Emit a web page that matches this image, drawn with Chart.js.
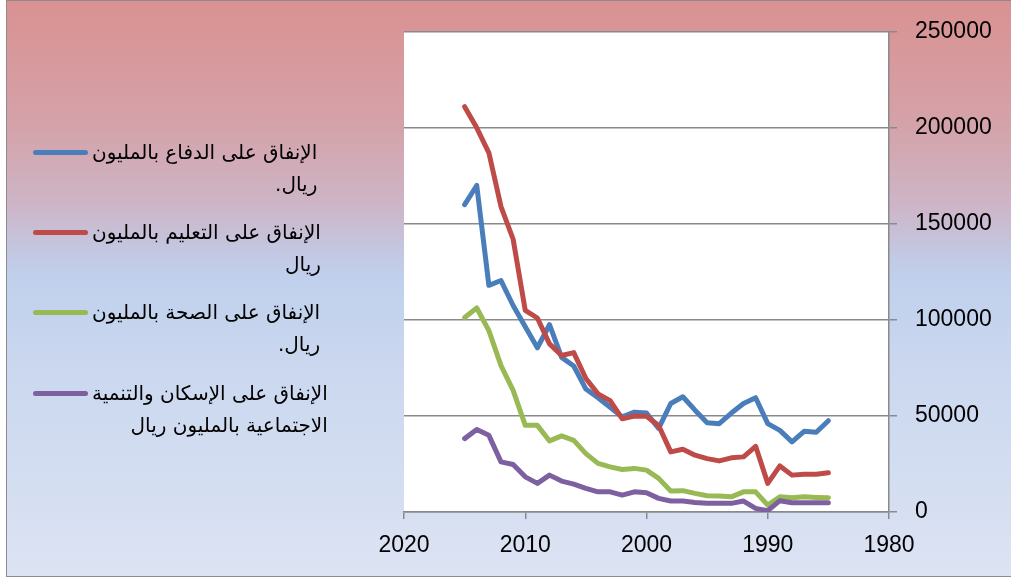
<!DOCTYPE html>
<html lang="ar">
<head>
  <meta charset="UTF-8">
  <title>الإنفاق بالمليون ريال</title>
  <script src="https://cdn.jsdelivr.net/npm/chart.js"></script>
  <style>
    html, body { margin: 0; padding: 0; width: 1011px; height: 579px; overflow: hidden; background: #fff; }
    .frame {
      position: absolute; left: 6px; top: 0; width: 1012px; height: 575px;
      border: 1.5px solid #8c8c8c;
      background: linear-gradient(to bottom, #da9191 0%, #d4a3aa 22%, #cdb6c8 36%, #c4c6e0 43%, #c0d0ec 48%, #cbd8ef 65%, #dce3f3 100%);
    }
    .wrap { position: absolute; left: 0; top: 0; width: 1011px; height: 579px; }
    .legend-line { position: absolute; left: 33px; width: 55px; height: 5px; border-radius: 3px; }
    .legend-text {
      position: absolute; left: 92px; direction: rtl; text-align: right;
      font-family: "DejaVu Sans", sans-serif; font-size: 20px; line-height: 32px; color: #000;
      white-space: nowrap;
    }
  </style>
</head>
<body>
  <div class="frame"></div>
  <div class="wrap"><canvas id="chart"></canvas></div>
  <div id="legend"></div>

  <script>
    // السنوات
    const years = [2015, 2014, 2013, 2012, 2011, 2010, 2009, 2008, 2007, 2006, 2005, 2004, 2003, 2002, 2001, 2000,
                   1999, 1998, 1997, 1996, 1995, 1994, 1993, 1992, 1991, 1990, 1989, 1988, 1987, 1986, 1985];

    const defense = [160000, 170000, 118000, 120500, 107500, 96500, 85500, 97500, 80500, 76000, 64000, 59500, 54500, 49500, 52000, 51500,
                     43500, 56500, 60000, 53000, 46500, 46000, 51500, 56500, 59500, 46000, 42500, 36500, 42000, 41500, 47500];
    const education = [211000, 200000, 187000, 159000, 142000, 105000, 101000, 87500, 81500, 83000, 69500, 61500, 58000, 48500, 50000, 49800,
                       45000, 31300, 32700, 29600, 27800, 26600, 28200, 28700, 34200, 14900, 24000, 19200, 19700, 19700, 20400];
    const health = [101300, 106200, 94400, 76200, 63300, 45100, 45100, 37000, 39600, 37300, 30400, 25300, 23500, 22100, 22700, 21800,
                    17500, 10900, 11100, 9700, 8500, 8300, 7900, 10500, 10500, 3600, 7900, 7400, 7900, 7600, 7400];
    const housing = [38200, 42900, 39900, 26100, 24700, 18300, 14900, 19200, 16100, 14500, 12300, 10500, 10500, 8800, 10500, 10000,
                     7100, 5700, 5700, 5000, 4500, 4500, 4500, 5700, 1900, 700, 5900, 4800, 4800, 4800, 4800];

    const xTicks = [2020, 2010, 2000, 1990, 1980];
    const yTicks = [0, 50000, 100000, 150000, 200000, 250000];

    const seriesNames = [
      ['الإنفاق على الدفاع بالمليون', 'ريال.'],
      ['الإنفاق على التعليم  بالمليون', 'ريال'],
      ['الإنفاق على الصحة  بالمليون', 'ريال.'],
      ['الإنفاق على الإسكان والتنمية', 'الاجتماعية بالمليون ريال']
    ];
    const seriesColors = ['#4a7ebb', '#be4b48', '#98b954', '#7d60a0'];
    const seriesValues = [defense, education, health, housing];

    const axisGray = '#8a8a8a';
    const tickFont = { family: 'Liberation Sans', size: 23 };

    const chartAreaBg = {
      id: 'chartAreaBg',
      beforeDraw(chart) {
        const a = chart.chartArea, c = chart.ctx;
        c.save();
        c.fillStyle = '#ffffff';
        c.fillRect(a.left, a.top, a.right - a.left, a.bottom - a.top);
        c.restore();
      }
    };

    const datasets = seriesValues.map((vals, i) => ({
      label: seriesNames[i].join(' '),
      data: vals.map((v, j) => ({ x: years[j], y: v })),
      borderColor: seriesColors[i],
      borderWidth: 5,
      borderCapStyle: 'round',
      borderJoinStyle: 'round',
      pointRadius: 0,
      tension: 0,
      fill: false,
      order: seriesValues.length - i
    }));

    new Chart(document.getElementById('chart'), {
      type: 'line',
      data: { datasets: datasets },
      options: {
        responsive: true,
        maintainAspectRatio: false,
        animation: false,
        layout: { padding: { left: 404, top: 29, right: 0, bottom: 0 } },
        plugins: { legend: { display: false }, tooltip: { enabled: false } },
        scales: {
          x: {
            type: 'linear',
            reverse: true,
            min: 1980,
            max: 2020,
            afterBuildTicks: s => { s.ticks = xTicks.map(v => ({ value: v })); },
            afterFit: s => { s.height = 67; },
            ticks: { callback: v => String(v), font: tickFont, color: '#000', padding: 13, maxRotation: 0, autoSkip: false },
            grid: { drawOnChartArea: false, tickLength: 7, color: axisGray, lineWidth: 1.5 },
            border: { color: axisGray, width: 1.5 }
          },
          y: {
            position: 'right',
            min: 0,
            max: 250000,
            afterBuildTicks: s => { s.ticks = yTicks.map(v => ({ value: v })); },
            afterFit: s => { s.width = 122; },
            ticks: { callback: v => String(v), font: tickFont, color: '#000', padding: 18 },
            grid: { color: axisGray, lineWidth: 1.5, tickLength: 8 },
            border: { color: axisGray, width: 1.5 }
          }
        }
      },
      plugins: [chartAreaBg]
    });

    // مفتاح الرسم
    const legendY = [152, 232, 312, 393];
    const legend = document.getElementById('legend');
    seriesNames.forEach((lines, i) => {
      const line = document.createElement('div');
      line.className = 'legend-line';
      line.style.top = (legendY[i] - 2.5) + 'px';
      line.style.background = seriesColors[i];
      legend.appendChild(line);

      const txt = document.createElement('div');
      txt.className = 'legend-text';
      txt.style.top = (legendY[i] - 16) + 'px';
      txt.innerHTML = lines.join('<br>');
      legend.appendChild(txt);
    });
  </script>
</body>
</html>
